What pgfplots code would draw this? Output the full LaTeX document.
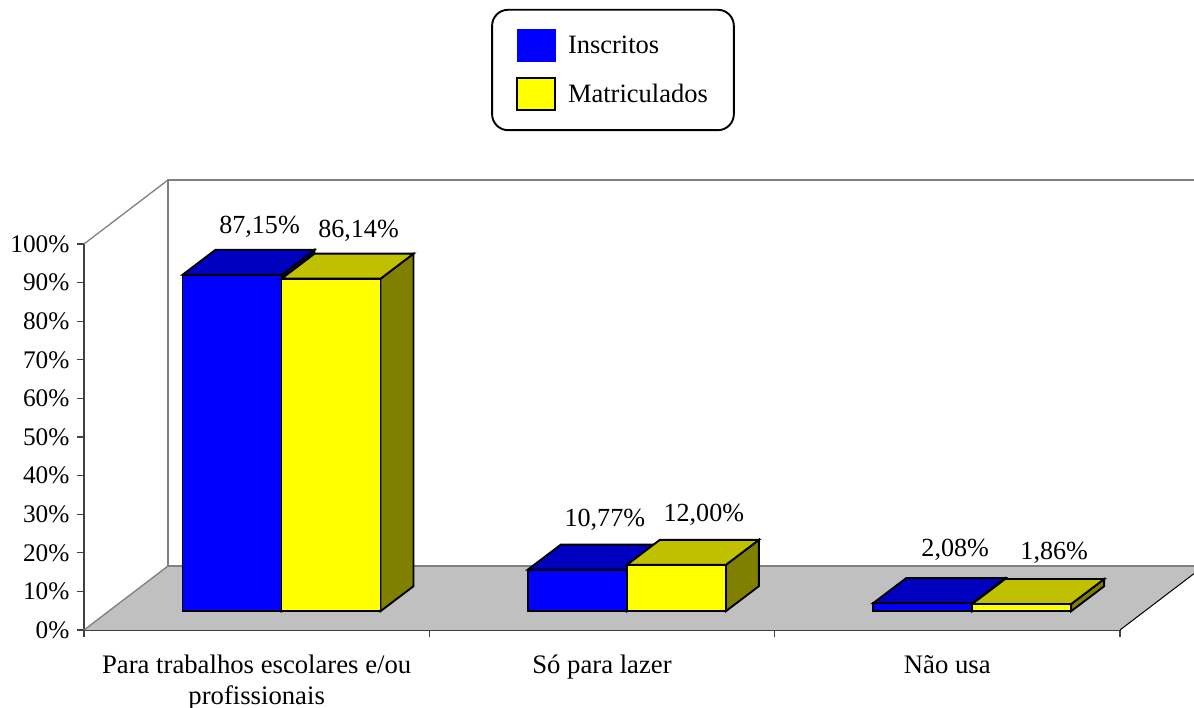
\documentclass[border=0pt]{standalone}
\usepackage{pgfplots}
\pgfplotsset{compat=1.18}
\usepackage{fontspec}
\setmainfont{Liberation Serif}
\definecolor{bblue}{HTML}{0000FF}
\definecolor{bbluetop}{HTML}{0000C0}
\definecolor{bblueside}{HTML}{000080}
\definecolor{byel}{HTML}{FFFF00}
\definecolor{byeltop}{HTML}{C0C000}
\definecolor{byelside}{HTML}{808000}
\definecolor{wallgrey}{HTML}{808080}
\definecolor{floorgrey}{HTML}{C0C0C0}
\pgfmathsetmacro\barw{99/345.33}
\pgfmathsetmacro\depx{33/345.33}
\pgfmathsetmacro\depy{25/3.86}
\pgfmathsetmacro\basey{18.8/3.86}
% #1 left edge of bar, #2 value, #3 front, #4 top, #5 side, #6 label, #7 label dx, #8 label dy
\newcommand\barbox[8]{%
  \pgfmathsetmacro\xa{#1}%
  \pgfmathsetmacro\xb{#1+\barw}%
  \pgfmathsetmacro\xc{#1+\barw+\depx}%
  \pgfmathsetmacro\xd{#1+\depx}%
  \pgfmathsetmacro\ya{\basey}%
  \pgfmathsetmacro\yb{\basey+#2}%
  \pgfmathsetmacro\yc{\basey+\depy}%
  \pgfmathsetmacro\yd{\basey+#2+\depy}%
  \addplot[fill=#5,draw=black,line width=1.9pt] coordinates {(\xb,\ya)(\xc,\yc)(\xc,\yd)(\xb,\yb)} -- cycle;
  \addplot[fill=#4,draw=black,line width=1.9pt] coordinates {(\xa,\yb)(\xb,\yb)(\xc,\yd)(\xd,\yd)} -- cycle;
  \addplot[fill=#3,draw=black,line width=1.9pt] coordinates {(\xa,\ya)(\xb,\ya)(\xb,\yb)(\xa,\yb)} -- cycle;
  \addplot[draw=none,mark=none,nodes near coords={#6},
    nodes near coords style={anchor=center,xshift=#7pt,yshift=#8pt,text=black,font=\fontsize{26.1}{30}\selectfont}]
    coordinates {(\xa,\yb)};
}
\begin{document}
\begin{tikzpicture}[x=1pt,y=1pt]
\useasboundingbox (-84,-78) rectangle (1110,630);
\begin{axis}[
  at={(0pt,0pt)},anchor=south west,
  scale only axis,width=1036pt,height=386pt,
  xmin=0,xmax=3,ymin=0,ymax=100,
  clip=false,
  axis x line*=bottom,axis y line*=left,
  axis line style={line width=1.7pt,color=black!75,-},
  tick style={line width=1.3pt,color=black!75},
  major tick length=7pt,
  tick align=outside,
  xtick={0,1,2,3},
  x tick label as interval,
  xticklabels={{Para trabalhos escolares e/ou\\profissionais},{Só para lazer},{Não usa}},
  x tick label style={align=center,font=\fontsize{26.7}{31}\selectfont,yshift=-14.5pt},
  ytick={0,10,...,100},
  yticklabel={\pgfmathprintnumber{\tick}\%},
  y tick label style={font=\fontsize{25.3}{30}\selectfont,xshift=-4pt},
  /pgf/number format/assume math mode=true,
  legend style={at={(0.5106,1.4508)},anchor=center,draw=black,line width=1.9pt,
    rounded corners=16pt,inner xsep=24pt,inner ysep=19pt,
    font=\fontsize{26.5}{31}\selectfont,
    row sep=16pt,
    cells={anchor=west}},
  legend image code/.code={\draw[#1,sharp corners] (0pt,-16pt) rectangle (38pt,16pt); \path (48pt,0pt);},
  legend cell align=left,
]
\addlegendimage{fill=bblue,draw=bblue,line width=0.5pt}
\addlegendentry{Inscritos}
\addlegendimage{fill=byel,draw=black,line width=1.9pt}
\addlegendentry{Matriculados}
% floor
\addplot[fill=floorgrey,draw=none] coordinates {(0,0)(0.2432,16.58)(3.2143,16.58)(3.2143,14.6)(3,0)} -- cycle;
\addplot[draw=wallgrey,line width=1.3pt] coordinates {(0,0)(0.2432,16.58)};
\addplot[draw=wallgrey,line width=2.4pt] coordinates {(0.2432,16.58)(3.2143,16.58)};
\addplot[draw=black,line width=1pt] coordinates {(3,0)(3.2143,14.6)};
% walls
\addplot[draw=wallgrey,line width=2.4pt] coordinates {(0.2432,16.58)(0.2432,116.58)(3.2143,116.58)};
\addplot[draw=wallgrey,line width=1.3pt] coordinates {(0,100)(0.2432,116.58)};
% bars
\barbox{0.2853}{87.15}{bblue}{bbluetop}{bblueside}{87,15\%}{77}{47.5}
\barbox{0.5720}{86.14}{byel}{byeltop}{byelside}{86,14\%}{77}{47.5}
\barbox{1.2853}{10.77}{bblue}{bbluetop}{bblueside}{10,77\%}{77}{49.5}
\barbox{1.5720}{12.00}{byel}{byeltop}{byelside}{12,00\%}{77}{50.5}
\barbox{2.2853}{2.08}{bblue}{bbluetop}{bblueside}{2,08\%}{82}{53.5}
\barbox{2.5720}{1.86}{byel}{byeltop}{byelside}{1,86\%}{82}{51.5}
\end{axis}
\end{tikzpicture}
\end{document}
